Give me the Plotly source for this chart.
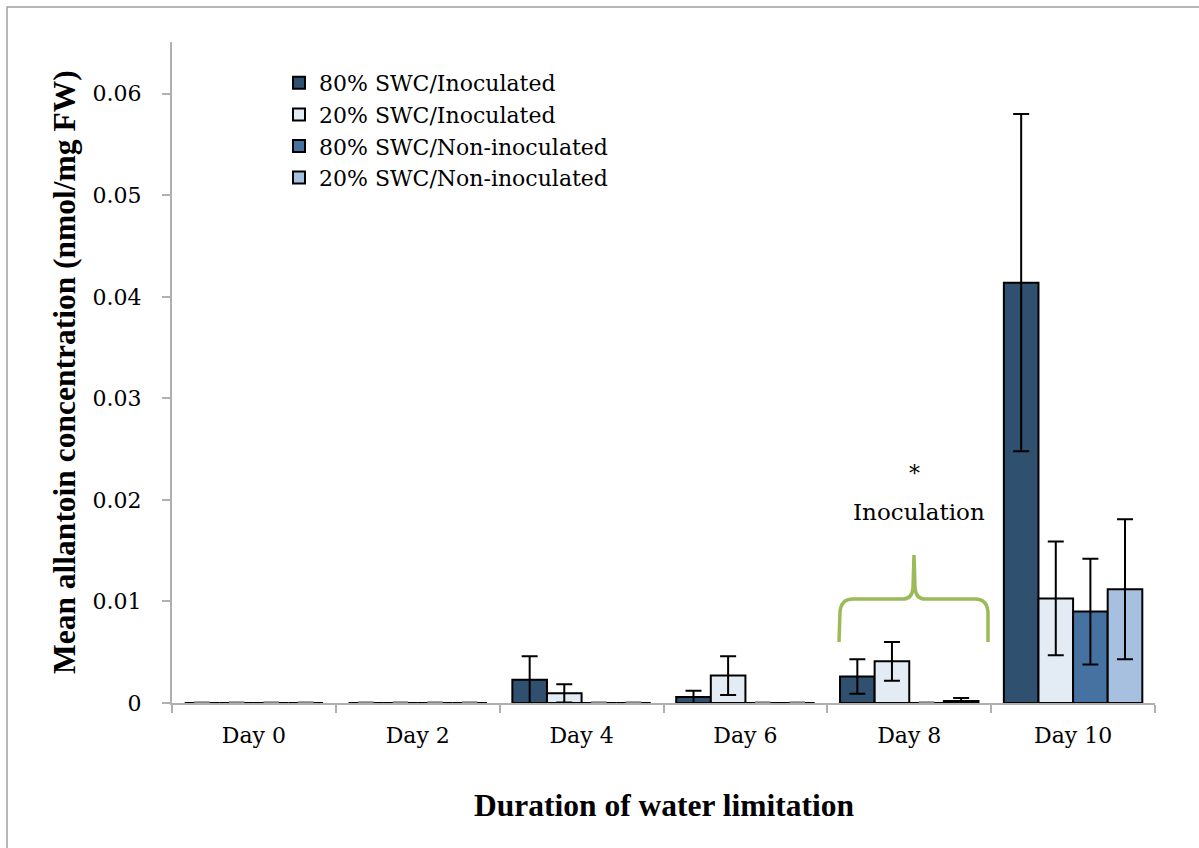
import plotly.graph_objects as go

# Sampling days and allantoin concentration (nmol/mg FW), mean and error
categories = ["Day 0", "Day 2", "Day 4", "Day 6", "Day 8", "Day 10"]
series_names = [
    "80% SWC/Inoculated",
    "20% SWC/Inoculated",
    "80% SWC/Non-inoculated",
    "20% SWC/Non-inoculated",
]
wet_inoc = [0, 0, 0.0023, 0.0006, 0.0026, 0.0414]
wet_inoc_err = [None, None, 0.0023, 0.0006, 0.0017, 0.0166]
dry_inoc = [0, 0, 0.00095, 0.0027, 0.0041, 0.0103]
dry_inoc_err = [None, None, 0.0009, 0.0019, 0.0019, 0.0056]
wet_non = [0, 0, 0, 0, 0, 0.0090]
wet_non_err = [None, None, None, None, None, 0.0052]
dry_non = [0, 0, 0, 0, 0.0002, 0.0112]
dry_non_err = [None, None, None, None, 0.0003, 0.0069]

colors = ["#30506f", "#e3ebf5", "#4672a2", "#a7c0df"]

values = [wet_inoc, dry_inoc, wet_non, dry_non]
errors = [wet_inoc_err, dry_inoc_err, wet_non_err, dry_non_err]

# plot area geometry (px)
W, H = 1199, 848
L, R, T, B = 172, 44, 42, 145
PW, PH = W - L - R, H - T - B


def px(x):
    return (x - L) / PW


def py(y):
    return (H - B - y) / PH


FONT = "DejaVu Serif"
TITLE_FONT = "Liberation Serif"
AXIS_GREY = "#b0b0b0"

fig = go.Figure()

for i, (name, vals, errs, col) in enumerate(zip(series_names, values, errors, colors)):
    fig.add_trace(go.Bar(
        x=categories, y=vals, name=name,
        offsetgroup=str(i), legendgroup=str(i),
        marker=dict(color=col, line=dict(color="black", width=2)),
        error_y=dict(type="data", array=errs, visible=True,
                     color="black", thickness=2, width=8),
    ))

# zero-valued bars are drawn as flat grey dashes on the baseline
for i, vals in enumerate(values):
    fig.add_trace(go.Scatter(
        x=categories, y=[0 if v == 0 else None for v in vals],
        mode="markers", offsetgroup=str(i), showlegend=False, hoverinfo="skip",
        marker=dict(symbol="line-ew", size=11, color="#858585",
                    line=dict(color="#858585", width=3.5)),
    ))

# curly brace over the Day 8 group
brace_pts = [
    ("M", 839, 642), ("L", 840, 612), ("Q", 841, 599, 853, 599), ("L", 903, 599),
    ("Q", 912, 599, 913, 588), ("L", 914, 555), ("L", 915, 588),
    ("Q", 916, 599, 925, 599), ("L", 975, 599), ("Q", 987, 599, 988, 612),
    ("L", 988, 642),
]
path = ""
for seg in brace_pts:
    cmd, coords = seg[0], seg[1:]
    parts = []
    for k in range(0, len(coords), 2):
        parts.append(f"{px(coords[k]):.5f},{py(coords[k + 1]):.5f}")
    path += cmd + " " + " ".join(parts) + " "

shapes = [
    dict(type="path", path=path.strip(), xref="paper", yref="paper",
         line=dict(color="#9bbb59", width=3.5)),
    # outer frame
    dict(type="rect", xref="paper", yref="paper",
         x0=px(7), y0=py(7), x1=px(1260), y1=py(900),
         line=dict(color="#a0a0a0", width=1.5)),
]

annotations = [
    dict(text="*", x=px(914), y=py(474), xref="paper", yref="paper",
         xanchor="center", yanchor="middle",
         showarrow=False, font=dict(family=FONT, size=22, color="black")),
    dict(text="Inoculation", x=px(919), y=py(512), xref="paper", yref="paper",
         xanchor="center", yanchor="middle",
         showarrow=False, font=dict(family=FONT, size=23, color="black")),
    dict(text="<b>Mean allantoin concentration (nmol/mg FW)</b>",
         x=px(64), y=py(372), xref="paper", yref="paper", textangle=-90,
         xanchor="center", yanchor="middle",
         showarrow=False, font=dict(family=TITLE_FONT, size=31.5, color="black")),
    dict(text="<b>Duration of water limitation</b>",
         x=0.5, y=py(805), xref="paper", yref="paper",
         xanchor="center", yanchor="middle",
         showarrow=False, font=dict(family=TITLE_FONT, size=31.5, color="black")),
]

fig.update_layout(
    width=W, height=H,
    margin=dict(l=L, r=R, t=T, b=B),
    paper_bgcolor="white", plot_bgcolor="white",
    barmode="group", bargap=0.155, bargroupgap=0,
    scattermode="group", scattergap=0.155,
    showlegend=True,
    legend=dict(x=px(279), y=py(62), xanchor="left", yanchor="top",
                font=dict(family=FONT, size=22, color="black"),
                bgcolor="rgba(0,0,0,0)", tracegroupgap=6,
                traceorder="normal"),
    shapes=shapes,
    annotations=annotations,
    font=dict(family=FONT, color="black"),
)

fig.update_xaxes(
    type="category", range=[-0.5, 5.5],
    showline=True, linecolor=AXIS_GREY, linewidth=2,
    ticks="outside", tickson="boundaries", ticklen=8, tickcolor=AXIS_GREY, tickwidth=2,
    showgrid=False, zeroline=False,
    tickfont=dict(family=FONT, size=22, color="black"),
    ticklabelstandoff=12,
)
fig.update_yaxes(
    range=[0, 0.0651], dtick=0.01, tick0=0,
    showline=True, linecolor=AXIS_GREY, linewidth=2,
    ticks="outside", ticklen=8, tickcolor=AXIS_GREY, tickwidth=2,
    showgrid=False, zeroline=False,
    tickfont=dict(family=FONT, size=22, color="black"),
    ticklabelstandoff=16,
)

fig.write_html("out.html")
